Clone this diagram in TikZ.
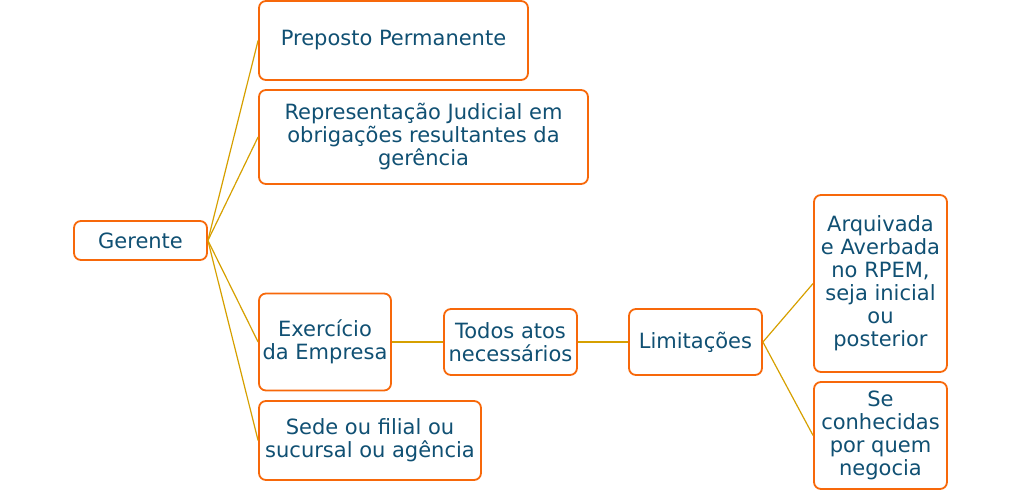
\documentclass[tikz,border=0pt]{standalone}
\usepackage{fontspec}
\setmainfont{DejaVu Sans}
\definecolor{txt}{RGB}{16,80,115}
\definecolor{bord}{RGB}{247,104,10}
\definecolor{conn}{RGB}{214,160,0}
\begin{document}
\begin{tikzpicture}[x=1pt,y=1pt,
  box/.style={draw=bord,line width=1.8pt,rounded corners=7pt,fill=white,
    text=txt,align=center,inner sep=0pt,
    font=\fontsize{21}{23}\selectfont},
  link/.style={draw=conn,line width=1.2pt}]
\useasboundingbox (0,0) rectangle (1021,-494);
\node[box,minimum width=133pt,minimum height=39pt] (ger) at (140.5,-240.5) {Gerente};
\node[box,minimum width=269pt,minimum height=79pt] (prep) at (393.5,-40.5) {Preposto Permanente};
\node[box,minimum width=329pt,minimum height=94pt] (rep) at (423.5,-137) {Representação Judicial em\\obrigações resultantes da\\gerência};
\node[box,minimum width=132pt,minimum height=97pt] (exe) at (325,-342) {Exercício\\da Empresa};
\node[box,minimum width=222pt,minimum height=79pt] (sede) at (370,-440.5) {Sede ou filial ou\\sucursal ou agência};
\node[box,minimum width=133pt,minimum height=66pt] (todos) at (510.5,-342) {Todos atos\\necessários};
\node[box,minimum width=133pt,minimum height=66pt] (lim) at (695.5,-342) {Limitações};
\node[box,minimum width=133pt,minimum height=177pt] (arq) at (880.5,-283.5) {Arquivada\\e Averbada\\no RPEM,\\seja inicial\\ou\\posterior};
\node[box,minimum width=133pt,minimum height=107pt] (se) at (880.5,-435.5) {Se\\conhecidas\\por quem\\negocia};
\draw[link] (ger.east) -- (prep.west);
\draw[link] (ger.east) -- (rep.west);
\draw[link] (ger.east) -- (exe.west);
\draw[link] (ger.east) -- (sede.west);
\draw[link] (exe.east) -- (todos.west);
\draw[link] (todos.east) -- (lim.west);
\draw[link] (lim.east) -- (arq.west);
\draw[link] (lim.east) -- (se.west);
\end{tikzpicture}
\end{document}
